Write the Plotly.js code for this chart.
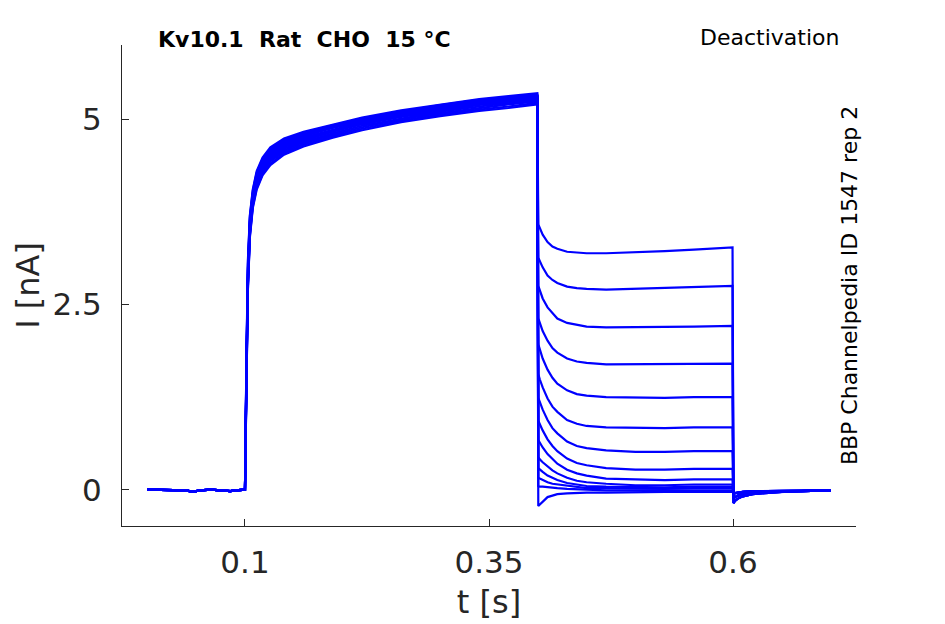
<!DOCTYPE html>
<html>
<head>
<meta charset="utf-8">
<script src="https://cdn.plot.ly/plotly-3.0.1.min.js"></script>
<style>html,body{margin:0;padding:0;background:#fff;}#chart{width:945px;height:624px;}</style>
</head>
<body>
<div id="chart"></div>
<script>
// ---- time bases (s) ----
var tPre   = [0, 0.02, 0.04, 0.046, 0.05, 0.054, 0.065, 0.08, 0.085, 0.09, 0.0995];
var tAct   = [0.1, 0.1015, 0.103, 0.105, 0.108, 0.112, 0.118, 0.126, 0.14, 0.16, 0.19, 0.22, 0.26, 0.3, 0.34, 0.37, 0.3995];
var tDeact = [0.4005, 0.402, 0.405, 0.41, 0.415, 0.42, 0.43, 0.44, 0.45, 0.47, 0.5, 0.53, 0.56, 0.5995];
var tTail  = [0.6005, 0.602, 0.605, 0.61, 0.62, 0.635, 0.65, 0.67, 0.7];

// ---- holding baseline (nA), shared by all sweeps ----
var iPre = [0.0, 0.0, -0.01, -0.03, -0.02, -0.01, 0.0, -0.01, -0.02, -0.01, 0.0];

// ---- activation (nA), one row per sweep ----
var act1  = [0, 1.8, 3.1, 3.7, 4.05, 4.3, 4.48, 4.62, 4.74, 4.83, 4.93, 5.02, 5.12, 5.2, 5.27, 5.31, 5.35];
var act2  = [0, 1.7, 3.05, 3.68, 4.03, 4.28, 4.46, 4.6, 4.72, 4.82, 4.92, 5.01, 5.1, 5.19, 5.26, 5.3, 5.33];
var act3  = [0, 1.75, 3.0, 3.65, 4.0, 4.26, 4.45, 4.59, 4.71, 4.8, 4.91, 5.0, 5.09, 5.18, 5.25, 5.29, 5.32];
var act4  = [0, 1.65, 2.95, 3.62, 3.98, 4.24, 4.43, 4.57, 4.7, 4.79, 4.9, 4.99, 5.08, 5.17, 5.24, 5.28, 5.31];
var act5  = [0, 1.6, 2.95, 3.6, 3.97, 4.22, 4.41, 4.55, 4.68, 4.78, 4.89, 4.98, 5.07, 5.16, 5.23, 5.27, 5.31];
var act6  = [0, 1.7, 2.9, 3.58, 3.95, 4.21, 4.4, 4.54, 4.67, 4.77, 4.88, 4.97, 5.07, 5.15, 5.22, 5.27, 5.3];
var act7  = [0, 1.55, 2.85, 3.55, 3.93, 4.19, 4.38, 4.52, 4.65, 4.75, 4.86, 4.96, 5.06, 5.14, 5.22, 5.26, 5.3];
var act8  = [0, 1.6, 2.85, 3.53, 3.92, 4.18, 4.37, 4.51, 4.64, 4.74, 4.85, 4.95, 5.05, 5.13, 5.21, 5.25, 5.29];
var act9  = [0, 1.5, 2.8, 3.5, 3.9, 4.16, 4.35, 4.49, 4.62, 4.73, 4.84, 4.94, 5.04, 5.12, 5.2, 5.24, 5.28];
var act10 = [0, 1.55, 2.8, 3.48, 3.88, 4.14, 4.33, 4.47, 4.6, 4.71, 4.83, 4.93, 5.03, 5.11, 5.19, 5.23, 5.27];
var act11 = [0, 1.5, 2.78, 3.46, 3.86, 4.12, 4.31, 4.45, 4.58, 4.69, 4.81, 4.91, 5.01, 5.1, 5.17, 5.22, 5.26];
var act12 = [0, 1.45, 2.75, 3.44, 3.84, 4.1, 4.29, 4.43, 4.56, 4.67, 4.79, 4.89, 5.0, 5.08, 5.15, 5.2, 5.24];
var act13 = [0, 1.4, 2.72, 3.42, 3.82, 4.07, 4.26, 4.4, 4.54, 4.65, 4.77, 4.87, 4.98, 5.06, 5.13, 5.17, 5.22];
var act14 = [0, 1.4, 2.7, 3.4, 3.8, 4.05, 4.24, 4.38, 4.52, 4.63, 4.75, 4.85, 4.96, 5.04, 5.11, 5.15, 5.2];

// ---- deactivation (nA), one row per sweep ----
var de1  = [3.58, 3.53, 3.44, 3.34, 3.28, 3.25, 3.21, 3.2, 3.19, 3.19, 3.2, 3.22, 3.24, 3.27];
var de2  = [3.13, 3.08, 3.0, 2.89, 2.83, 2.79, 2.74, 2.72, 2.71, 2.7, 2.71, 2.72, 2.73, 2.75];
var de3  = [2.75, 2.69, 2.58, 2.46, 2.38, 2.31, 2.25, 2.22, 2.2, 2.19, 2.19, 2.2, 2.2, 2.21];
var de4  = [2.31, 2.26, 2.14, 2.01, 1.91, 1.85, 1.77, 1.73, 1.71, 1.69, 1.69, 1.69, 1.7, 1.7];
var de5  = [1.96, 1.89, 1.77, 1.62, 1.51, 1.43, 1.34, 1.29, 1.27, 1.25, 1.24, 1.24, 1.25, 1.25];
var de6  = [1.56, 1.49, 1.38, 1.23, 1.12, 1.05, 0.94, 0.89, 0.86, 0.84, 0.83, 0.83, 0.84, 0.84];
var de7  = [1.24, 1.18, 1.08, 0.94, 0.83, 0.76, 0.65, 0.59, 0.56, 0.53, 0.51, 0.51, 0.52, 0.52];
var de8  = [0.93, 0.88, 0.8, 0.68, 0.59, 0.52, 0.42, 0.36, 0.33, 0.29, 0.27, 0.27, 0.28, 0.28];
var de9  = [0.67, 0.63, 0.57, 0.48, 0.41, 0.35, 0.27, 0.22, 0.19, 0.15, 0.14, 0.13, 0.14, 0.14];
var de10 = [0.44, 0.41, 0.37, 0.31, 0.26, 0.22, 0.16, 0.12, 0.1, 0.08, 0.06, 0.06, 0.07, 0.07];
var de11 = [0.29, 0.27, 0.24, 0.19, 0.16, 0.13, 0.09, 0.07, 0.05, 0.04, 0.03, 0.03, 0.04, 0.04];
var de12 = [0.16, 0.15, 0.13, 0.1, 0.08, 0.07, 0.05, 0.03, 0.02, 0.02, 0.01, 0.01, 0.02, 0.02];
var de13 = [0.05, 0.04, 0.04, 0.03, 0.02, 0.02, 0.01, 0.0, 0.0, -0.01, -0.01, -0.01, -0.01, -0.01];
var de14 = [-0.22, -0.2, -0.16, -0.1, -0.08, -0.06, -0.05, -0.04, -0.04, -0.04, -0.03, -0.03, -0.03, -0.03];

// ---- tail currents after repolarisation (nA) ----
var tailA = [-0.18, -0.15, -0.12, -0.09, -0.06, -0.04, -0.03, -0.02, -0.01];
var tailB = [-0.12, -0.1, -0.08, -0.06, -0.04, -0.03, -0.02, -0.02, -0.01];
var tailC = [-0.05, -0.05, -0.04, -0.03, -0.02, -0.02, -0.02, -0.01, -0.01];

var actRows  = [act1, act2, act3, act4, act5, act6, act7, act8, act9, act10, act11, act12, act13, act14];
var deRows   = [de1, de2, de3, de4, de5, de6, de7, de8, de9, de10, de11, de12, de13, de14];
var tailRows = [tailA, tailA, tailA, tailA, tailB, tailB, tailB, tailB, tailB, tailC, tailC, tailC, tailC, tailC];

// ---- text ----
var titleText = "Kv10.1  Rat  CHO  15 °C";
var protocolText = "Deactivation";
var sourceText = "BBP Channelpedia ID 1547 rep 2";
var xTicks = [0.1, 0.35, 0.6];
var xTickText = ["0.1", "0.35", "0.6"];
var yTicks = [0, 2.5, 5];
var yTickText = ["0", "2.5", "5"];

var tAll = tPre.concat(tAct, tDeact, tTail);
var traces = [];
for (var k = 0; k < actRows.length; k++) {
  traces.push({
    x: tAll,
    y: iPre.concat(actRows[k], deRows[k], tailRows[k]),
    type: 'scatter', mode: 'lines',
    line: {color: '#0000ff', width: 2.2},
    hoverinfo: 'skip', showlegend: false
  });
}

var ink = '#262626';
var font = 'DejaVu Sans, sans-serif';
var layout = {
  width: 945, height: 624,
  margin: {l: 122, r: 89, t: 45, b: 98},
  paper_bgcolor: '#ffffff', plot_bgcolor: '#ffffff',
  showlegend: false,
  xaxis: {
    range: [-0.026, 0.726], tickvals: xTicks, ticktext: xTickText,
    ticks: 'inside', ticklen: 7, tickwidth: 1, tickcolor: ink,
    showline: true, linecolor: ink, linewidth: 1, showgrid: false, zeroline: false,
    tickfont: {family: font, size: 31, color: ink},
    ticklabelstandoff: 9,
    title: {text: 't [s]', font: {family: font, size: 32, color: ink}, standoff: 11}
  },
  yaxis: {
    range: [-0.49, 6.0], tickvals: yTicks, ticktext: yTickText,
    ticks: 'inside', ticklen: 7, tickwidth: 1, tickcolor: ink,
    showline: true, linecolor: ink, linewidth: 1, showgrid: false, zeroline: false,
    tickfont: {family: font, size: 31, color: ink},
    ticklabelstandoff: 13,
    title: {text: 'I [nA]', font: {family: font, size: 32, color: ink}, standoff: 3}
  },
  annotations: [
    {text: '<b>' + titleText + '</b>', xref: 'paper', yref: 'paper', x: 0.046, y: 1.012,
     xanchor: 'left', yanchor: 'middle', showarrow: false,
     font: {family: font, size: 22, color: '#000000'}},
    {text: protocolText, xref: 'paper', yref: 'paper', x: 0.979, y: 1.015,
     xanchor: 'right', yanchor: 'middle', showarrow: false,
     font: {family: font, size: 22, color: '#000000'}},
    {text: sourceText, xref: 'paper', yref: 'paper', x: 0.992, y: 0.499,
     xanchor: 'center', yanchor: 'middle', textangle: -90, showarrow: false,
     font: {family: font, size: 22, color: '#000000'}}
  ]
};

Plotly.newPlot('chart', traces, layout, {staticPlot: true, displayModeBar: false});
</script>
</body>
</html>
